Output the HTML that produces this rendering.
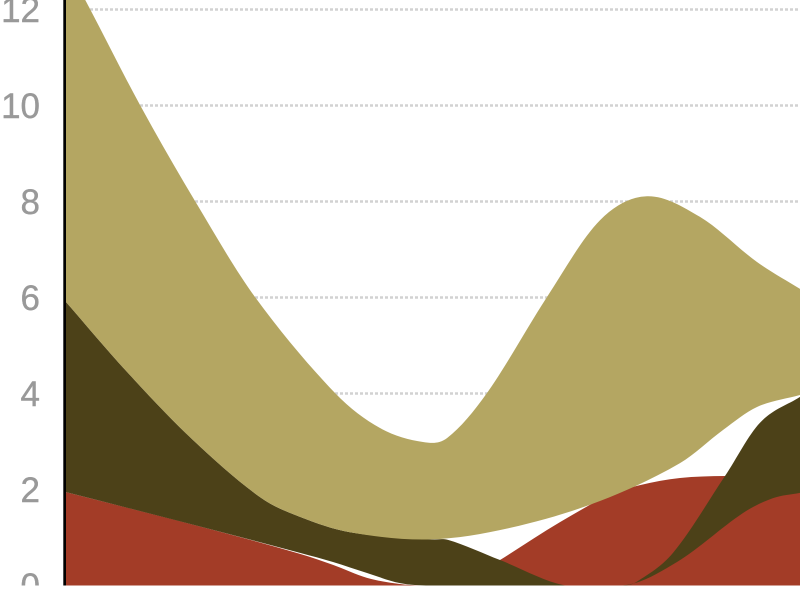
<!DOCTYPE html>
<html>
<head>
<meta charset="utf-8">
<style>
html,body{margin:0;padding:0;background:#fff;width:800px;height:600px;overflow:hidden}
svg{display:block}
text{font-family:"Liberation Sans",sans-serif;font-size:35px;fill:#999;stroke:#999;stroke-width:0.4px;text-anchor:end}
</style>
</head>
<body>
<svg id="chart" width="800" height="600" viewBox="0 0 800 600">
<defs><clipPath id="plot"><rect x="65" y="-60" width="735" height="645.5"/></clipPath>
<clipPath id="labels"><rect x="0" y="-60" width="65" height="645.5"/></clipPath></defs>
<g id="grid"></g>
<g id="ticks" clip-path="url(#labels)"></g>
<g id="areas" clip-path="url(#plot)"></g>
<line id="axis" stroke="#000" stroke-width="2.7"></line>
</svg>
<script>
const tickLabels = [0,2,4,6,8,10,12];

const redTopT = [0,3.7,5.875,6.7,7.55,8.375,8.875,9.875,10.875,12.375,13.625,14.375,15.375,16.5,18.375];
const redTopV = [1.95,1.16,0.66,0.43,0.16,0.03,0,0,0.53,1.32,1.89,2.09,2.24,2.28,2.28];
const redBottomT = [0,18.375];
const redBottomV = [0,0];

const darkTopT = [0,1.55,3.2,4.875,5.875,7.125,9.125,9.575,10.875,12.5,14,14.3,15.2,16.5,17.375,18.375];
const darkTopV = [5.93,4.45,3.03,1.84,1.43,1.11,0.96,0.95,0.53,0,0,0.08,0.68,2.28,3.39,3.93];
const darkBottomT = [0,3.7,5.875,6.7,7.55,8.375,9.125,13.95,15.3,16.95,17.7,18.375];
const darkBottomV = [1.95,1.16,0.68,0.49,0.26,0.05,0,0,0.49,1.51,1.82,1.93];

const khakiTopT = [0,0.625,1.875,3.25,4.75,6.75,7.875,8.95,9.55,10.55,12.05,13.375,14.55,15.875,17.3,18.375];
const khakiTopV = [12.99,12.01,10.01,8.01,6.01,4.01,3.28,2.99,3.07,4.01,6.01,7.61,8.11,7.68,6.74,6.18];
const khakiBottomT = [0,1.55,3.2,4.875,5.875,7.125,9.125,11.125,13.375,15.375,16.45,17.3,18.375];
const khakiBottomV = [5.93,4.45,3.03,1.84,1.43,1.11,0.96,1.20,1.76,2.55,3.24,3.72,3.97];

const NS = 'http://www.w3.org/2000/svg';
const xScale = t => 65 + t * 40;
const yScale = v => 585.5 - v * 48;

function tangents(p) {
  return p.map((pt, i) => {
    if (i === 0) return (p[1][1] - pt[1]) / (p[1][0] - pt[0]);
    if (i === p.length - 1) return (pt[1] - p[i - 1][1]) / (pt[0] - p[i - 1][0]);
    return (p[i + 1][1] - p[i - 1][1]) / (p[i + 1][0] - p[i - 1][0]);
  });
}
function curve(p, cmd) {
  const m = tangents(p);
  let d = cmd + p[0][0].toFixed(2) + ' ' + p[0][1].toFixed(2);
  for (let i = 0; i < p.length - 1; i++) {
    const h = (p[i + 1][0] - p[i][0]) / 3;
    d += 'C' + (p[i][0] + h).toFixed(2) + ' ' + (p[i][1] + m[i] * h).toFixed(2) + ' ' +
      (p[i + 1][0] - h).toFixed(2) + ' ' + (p[i + 1][1] - m[i + 1] * h).toFixed(2) + ' ' +
      p[i + 1][0].toFixed(2) + ' ' + p[i + 1][1].toFixed(2);
  }
  return d;
}
function toPoints(ts, vs) {
  return ts.map((t, i) => [xScale(t), yScale(vs[i])]);
}
function band(tT, tV, bT, bV) {
  return curve(toPoints(tT, tV), 'M') + curve(toPoints(bT, bV).reverse(), 'L') + 'Z';
}

const grid = document.getElementById('grid');
const ticks = document.getElementById('ticks');
tickLabels.forEach(v => {
  if (v > 0) {
    const l = document.createElementNS(NS, 'line');
    
    
    l.setAttribute('x1', 65);
    l.setAttribute('x2', 800);
    l.setAttribute('y1', yScale(v));
    l.setAttribute('y2', yScale(v));
    l.setAttribute('stroke', '#d2d2d2');
    l.setAttribute('stroke-width', 2.5);
    l.setAttribute('stroke-dasharray', '3 2');
    grid.appendChild(l);
  }
  const t = document.createElementNS(NS, 'text');
  
  
  t.setAttribute('x', 40);
  t.setAttribute('y', yScale(v) + 12.5);
  t.textContent = v;
  ticks.appendChild(t);
});

const areas = document.getElementById('areas');
const red = document.createElementNS(NS, 'path');


red.setAttribute('fill', '#a33c27');
red.setAttribute('d', band(redTopT, redTopV, redBottomT, redBottomV));
areas.appendChild(red);
const dark = document.createElementNS(NS, 'path');


dark.setAttribute('fill', '#4c4118');
dark.setAttribute('d', band(darkTopT, darkTopV, darkBottomT, darkBottomV));
areas.appendChild(dark);
const khaki = document.createElementNS(NS, 'path');


khaki.setAttribute('fill', '#b4a662');
khaki.setAttribute('d', band(khakiTopT, khakiTopV, khakiBottomT, khakiBottomV));
areas.appendChild(khaki);

const axis = document.getElementById('axis');
axis.setAttribute('x1', 64.65);
axis.setAttribute('x2', 64.65);
axis.setAttribute('y1', 0);
axis.setAttribute('y2', yScale(0));
</script>
</body>
</html>
